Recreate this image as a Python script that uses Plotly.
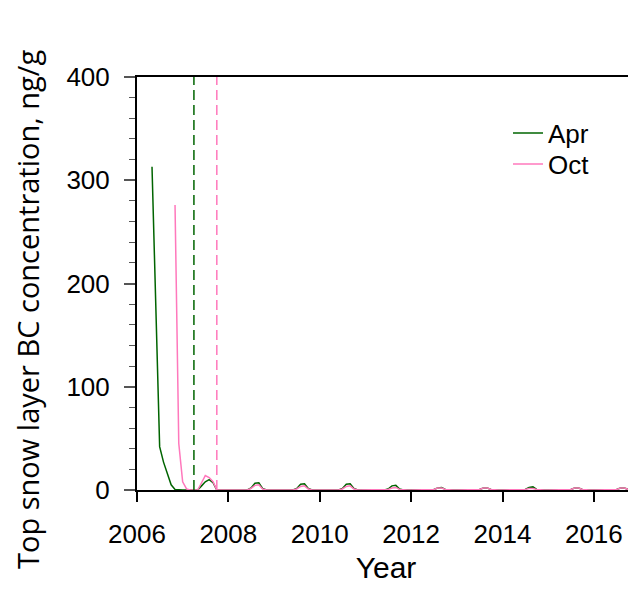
import pandas as pd
import plotly.graph_objects as go

# ---- data (monthly values, ng/g) ----
apr_start = "2006-05-01"
apr_2006 = [313, 178, 42, 27, 15, 5, 0.5, 0]                   # May-Dec 2006
apr_2007 = [0, 0, 0, 0, 0, 4, 8, 10, 7, 0, 0, 0]
apr_2008 = [0, 0, 0, 0, 0, 0, 2, 6.5, 7, 1.5, 0, 0]
apr_2009 = [0, 0, 0, 0, 0, 0, 1.5, 5.5, 6, 1.5, 0, 0]
apr_2010 = [0, 0, 0, 0, 0, 0, 1.5, 5.5, 6, 1.5, 0, 0]
apr_2011 = [0, 0, 0, 0, 0, 0, 1, 4, 4.5, 1, 0, 0]
apr_2012 = [0, 0, 0, 0, 0, 0, 0.5, 2, 2.5, 0.5, 0, 0]
apr_2013 = [0, 0, 0, 0, 0, 0, 0.5, 2, 2, 0.5, 0, 0]
apr_2014 = [0, 0, 0, 0, 0, 0, 0.5, 2.5, 3, 0.5, 0, 0]
apr_2015 = [0, 0, 0, 0, 0, 0, 0.5, 2, 2, 0.5, 0, 0]
apr_2016 = [0, 0, 0, 0, 0, 0, 0.5, 2, 2, 0.5, 0]               # Jan-Nov 2016

oct_start = "2006-11-01"
oct_2006 = [276, 45]                                            # Nov-Dec 2006
oct_2007 = [8, 1, 0, 0, 0, 7, 14, 12, 8, 0, 0, 0]
oct_2008 = [0, 0, 0, 0, 0, 0, 1.5, 4.5, 5, 1, 0, 0]
oct_2009 = [0, 0, 0, 0, 0, 0, 1, 3.5, 4, 1, 0, 0]
oct_2010 = [0, 0, 0, 0, 0, 0, 1, 3.5, 4, 1, 0, 0]
oct_2011 = [0, 0, 0, 0, 0, 0, 0.5, 2, 2.5, 0.5, 0, 0]
oct_2012 = [0, 0, 0, 0, 0, 0, 0.5, 2, 2, 0.5, 0, 0]
oct_2013 = [0, 0, 0, 0, 0, 0, 0.5, 2, 2, 0.5, 0, 0]
oct_2014 = [0, 0, 0, 0, 0, 0, 0.5, 1.5, 1.5, 0.5, 0, 0]
oct_2015 = [0, 0, 0, 0, 0, 0, 0.5, 2, 2, 0.5, 0, 0]
oct_2016 = [0, 0, 0, 0, 0, 0, 0.5, 2, 2, 0.5, 0]

apr_marker = "2007-04-01"
oct_marker = "2007-10-01"

series_names = ["Apr", "Oct"]
colors = ["#006400", "#FF78BC"]
y_title = "Top snow layer BC concentration, ng/g"
x_title = "Year"

apr_vals = (apr_2006 + apr_2007 + apr_2008 + apr_2009 + apr_2010 + apr_2011
            + apr_2012 + apr_2013 + apr_2014 + apr_2015 + apr_2016)
oct_vals = (oct_2006 + oct_2007 + oct_2008 + oct_2009 + oct_2010 + oct_2011
            + oct_2012 + oct_2013 + oct_2014 + oct_2015 + oct_2016)

apr_x = pd.date_range(apr_start, periods=len(apr_vals), freq="MS")
oct_x = pd.date_range(oct_start, periods=len(oct_vals), freq="MS")

fig = go.Figure()
fig.add_trace(go.Scatter(x=apr_x, y=apr_vals, mode="lines", name=series_names[0],
                         line=dict(color=colors[0], width=1.5), legend="legend"))
fig.add_trace(go.Scatter(x=oct_x, y=oct_vals, mode="lines", name=series_names[1],
                         line=dict(color=colors[1], width=1.5), legend="legend2"))

for xm, c in [(apr_marker, colors[0]), (oct_marker, colors[1])]:
    fig.add_shape(type="line", x0=xm, x1=xm, y0=0, y1=1, xref="x", yref="paper",
                  line=dict(color=c, width=1.5, dash="10px,5px"))

# y-axis title, placed as in the reference (slightly below the axis centre)
fig.add_annotation(text=y_title, textangle=-90, x=0, y=0.436, xref="paper", yref="paper",
                   xanchor="center", yanchor="middle", xshift=-109, showarrow=False,
                   font=dict(family="Open Sans, sans-serif", size=29, color="black"))

leg_common = dict(xanchor="left", yanchor="middle", bgcolor="rgba(0,0,0,0)",
                  font=dict(size=26), borderwidth=0)
fig.update_layout(
    width=628, height=576,
    margin=dict(l=129, r=1, t=69, b=94),
    paper_bgcolor="white", plot_bgcolor="white",
    font=dict(family="Liberation Sans, Arial, sans-serif", size=26, color="black"),
    showlegend=True,
    legend=dict(x=0.745, y=0.864, **leg_common),
    legend2=dict(x=0.745, y=0.789, **leg_common),
)
fig.update_xaxes(
    type="date",
    range=["2006-01-01", "2016-11-25"],
    tick0="2006-01-01", dtick="M24", tickformat="%Y",
    ticks="outside", ticklen=10, tickwidth=1.5, tickcolor="black",
    ticklabelstandoff=10, automargin=False,
    showline=True, linecolor="black", linewidth=2, mirror=True,
    showgrid=False, zeroline=False,
    title=dict(text=x_title, font=dict(size=30), standoff=16),
)
fig.update_yaxes(
    range=[0, 400], tick0=0, dtick=100,
    ticks="outside", ticklen=11, tickwidth=1.5, tickcolor="#555555",
    ticklabelstandoff=9, automargin=False,
    minor=dict(dtick=20, ticks="outside", ticklen=6, tickwidth=1.2, tickcolor="#555555"),
    showline=True, linecolor="black", linewidth=2, mirror=True,
    showgrid=False, zeroline=False,
)

fig.write_html("out.html")
